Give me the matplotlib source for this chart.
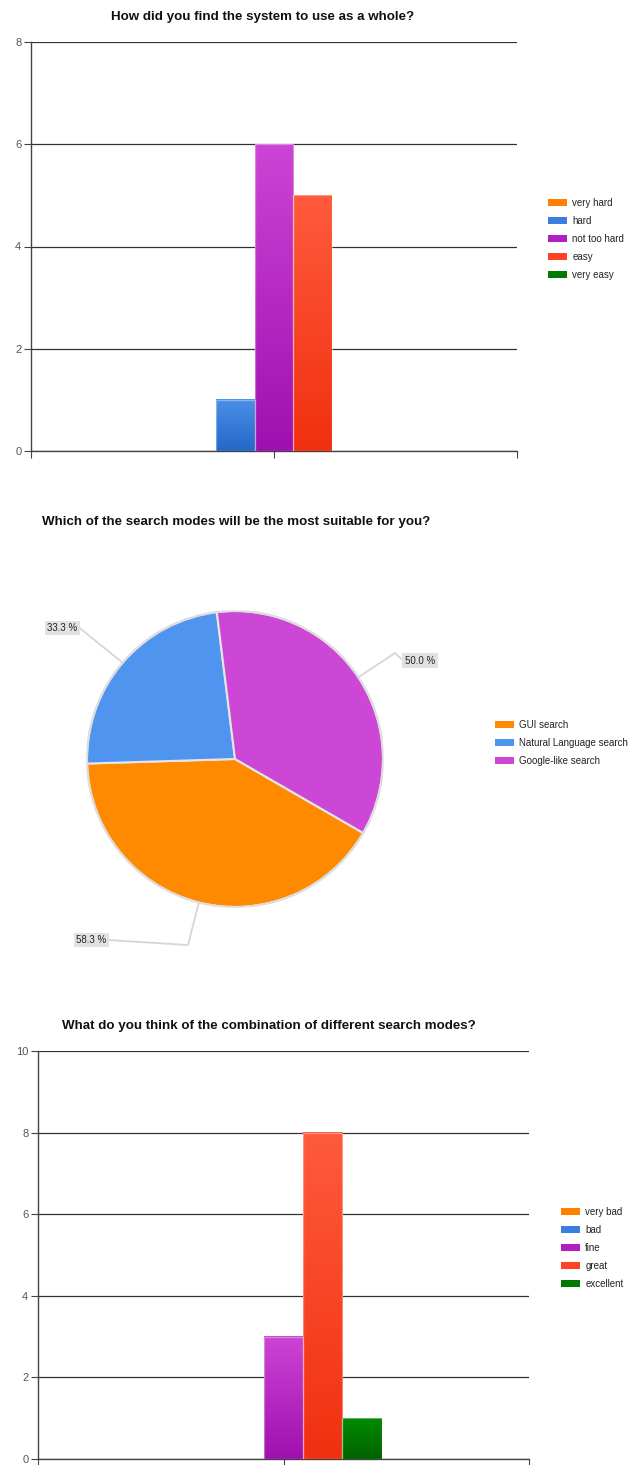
import numpy as np
import matplotlib
matplotlib.use("Agg")
import matplotlib.pyplot as plt
from matplotlib.patches import Patch
from matplotlib.colors import to_rgb

plt.rcParams['font.family'] = ['Liberation Sans', 'DejaVu Sans']

# ---------------- data ----------------
q1_title = "How did you find the system to use as a whole?"
q1_categories = ["very hard", "hard", "not too hard", "easy", "very easy"]
q1_values = [0, 1, 6, 5, 0]
q1_yticks = [0, 2, 4, 6, 8]

q2_title = "Which of the search modes will be the most suitable for you?"
q2_categories = ["GUI search", "Natural Language search", "Google-like search"]
q2_counts = [7, 4, 6]
q2_respondents = 12

q3_title = "What do you think of the combination of different search modes?"
q3_categories = ["very bad", "bad", "fine", "great", "excellent"]
q3_values = [0, 0, 3, 8, 1]
q3_yticks = [0, 2, 4, 6, 8, 10]

# ---------------- styles ----------------
bar_colors = ["#ff7f00", "#3a7fdd", "#b020c0", "#ff4224", "#007a00"]
grad_top = ["#ff9a30", "#4a8fe6", "#cc44d4", "#ff5a3c", "#008a00"]
grad_bot = ["#f07000", "#2468c8", "#a010b0", "#f03010", "#006400"]
pie_colors = ["#ff8a00", "#4f94ef", "#cc47d6"]
TITLE_SIZE = 9.6

W, H = 629, 1465
fig = plt.figure(figsize=(W / 100, H / 100), dpi=100)


def px_axes(left, top, right, bottom):
    return fig.add_axes([left / W, 1 - bottom / H, (right - left) / W, (bottom - top) / H])


def bar_chart(ax, cats, vals, yticks, title, title_xy, legend_xy):
    n = len(cats)
    bw = 0.08
    xs = (np.arange(n) - (n - 1) / 2) * bw
    bars = ax.bar(xs, vals, width=bw, color=bar_colors, edgecolor="none", zorder=3)
    for i, b in enumerate(bars):
        h = b.get_height()
        if h <= 0:
            continue
        c1 = np.array(to_rgb(grad_top[i]))
        c2 = np.array(to_rgb(grad_bot[i]))
        t = np.linspace(0, 1, 64)[:, None]
        img = (c1[None, :] * (1 - t) + c2[None, :] * t)[:, None, :]
        ax.imshow(img, extent=[b.get_x(), b.get_x() + b.get_width(), 0, h],
                  aspect="auto", zorder=4, origin="upper")
        ax.add_patch(plt.Rectangle((b.get_x(), 0), b.get_width(), h, fill=False,
                                   edgecolor=(1, 1, 1, 0.35), lw=0.9, zorder=5))
    ax.set_xlim(-0.5, 0.5)
    ax.set_ylim(0, yticks[-1])
    ax.set_yticks(yticks)
    ax.set_yticklabels([str(v) for v in yticks])
    ax.yaxis.grid(True, color="#333333", lw=0.9, zorder=1)
    ax.set_axisbelow(True)
    for s in ["top", "right"]:
        ax.spines[s].set_visible(False)
    for s in ["left", "bottom"]:
        ax.spines[s].set_color("#444444")
        ax.spines[s].set_linewidth(1.0)
    ax.set_xticks([-0.5, 0, 0.5])
    ax.set_xticklabels(["", "", ""])
    ax.tick_params(axis="x", length=5, color="#444444", direction="out")
    ax.tick_params(axis="y", length=5, color="#444444", labelsize=8, labelcolor="#555555", pad=2)
    fig.text(title_xy[0] / W, 1 - title_xy[1] / H, title, ha="center", va="center",
             fontsize=TITLE_SIZE, fontweight="bold", color="#111111")
    handles = [Patch(facecolor=c, edgecolor="none") for c in bar_colors]
    fig.legend(handles, cats, loc="upper left",
               bbox_to_anchor=(legend_xy[0] / W, 1 - legend_xy[1] / H),
               frameon=False, fontsize=7, borderpad=0, borderaxespad=0,
               handlelength=2.0, handleheight=0.75, handletextpad=0.5,
               labelspacing=0.83, labelcolor="#222222")


# ---------- chart 1 ----------
ax1 = px_axes(31, 42, 517, 451)
bar_chart(ax1, q1_categories, q1_values, q1_yticks, q1_title, (263, 17), (548, 198))

# ---------- chart 3 ----------
ax3 = px_axes(38, 1051, 529, 1459)
bar_chart(ax3, q3_categories, q3_values, q3_yticks, q3_title, (269, 1026), (561, 1207))

# ---------- pie chart ----------
cx, cy, r = 235, 759, 148
axp = px_axes(cx - r, cy - r, cx + r, cy + r)
wedges, _ = axp.pie(q2_counts, colors=pie_colors, startangle=-30, counterclock=False,
                    radius=1.0,
                    wedgeprops=dict(edgecolor="#e6e6e6", linewidth=1.5))
axp.add_patch(plt.Circle((0, 0), 1.0, fill=False, edgecolor="#dddddd", lw=1.5, zorder=5))
axp.set_xlim(-1, 1)
axp.set_ylim(-1, 1)
axp.set_aspect("equal")
axp.axis("off")

# label layout (elbow point, text centre) in pie data units
label_layout = [
    ([(-0.318, -1.257)], (-0.97, -1.223)),   # GUI
    ([], (-1.165, 0.885)),                     # Natural Language
    ([(1.081, 0.716)], (1.25, 0.665)),          # Google-like
]
text_half = 0.115
for w, cnt, (elbows, tpos) in zip(wedges, q2_counts, label_layout):
    mid = np.deg2rad((w.theta1 + w.theta2) / 2)
    ex, ey = np.cos(mid), np.sin(mid)
    pct = cnt / q2_respondents * 100
    end_x = tpos[0] + (text_half if tpos[0] < 0 else -text_half)
    pts = [(ex, ey)] + elbows + [(end_x, tpos[1])]
    px_, py_ = zip(*pts)
    axp.plot(px_, py_, color="#d6d6d6", lw=1.3, clip_on=False, zorder=2)
    axp.text(tpos[0], tpos[1], f"{pct:.1f} %", ha="center", va="center", fontsize=7,
             color="#222222", clip_on=False, zorder=6,
             bbox=dict(boxstyle="square,pad=0.25", facecolor="#e2e2e2", edgecolor="none"))

fig.text(236 / W, 1 - 522 / H, q2_title, ha="center", va="center",
         fontsize=TITLE_SIZE, fontweight="bold", color="#111111")
fig.legend([Patch(facecolor=c, edgecolor="none") for c in pie_colors], q2_categories,
           loc="upper left", bbox_to_anchor=(495 / W, 1 - 720 / H),
           frameon=False, fontsize=7, borderpad=0, borderaxespad=0,
           handlelength=2.0, handleheight=0.75, handletextpad=0.5,
           labelspacing=0.83, labelcolor="#222222")

fig.savefig("out.png", dpi=100)
